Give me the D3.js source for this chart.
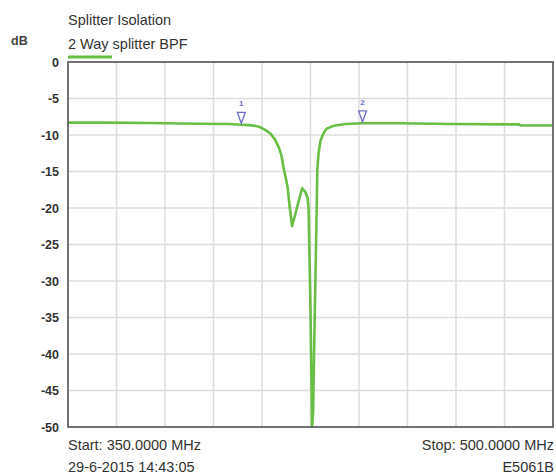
<!DOCTYPE html>
<html>
<head>
<meta charset="utf-8">
<script src="https://cdn.jsdelivr.net/npm/d3@7"></script>
<style>
  body { margin: 0; background: #fff; }
  text { font-family: "Liberation Sans", Arial, sans-serif; fill: #333; }
</style>
</head>
<body>
<main></main>
<script>
const width = 556;
const height = 475;
const margin = { top: 62, right: 3, bottom: 48, left: 68 };

// trace: frequency (MHz) and isolation (dB)
const freqs = [350, 362, 375, 390, 400, 403.6, 406, 408, 409.5, 411, 412.6, 414, 415.1, 416, 416.6, 417.3,
  417.9, 418.6, 419.3, 422.4, 423.4, 424.1, 424.4, 425.0, 425.5, 425.8, 426.3, 426.8, 427.1, 427.5,
  428.1, 428.8, 429.5, 430.2, 431.5, 432.7, 435.8, 441.1, 452.9, 468.4, 489.5, 490, 500];
const dbValues = [-8.3, -8.3, -8.35, -8.45, -8.5, -8.6, -8.65, -8.75, -8.95, -9.3, -9.8, -10.6, -11.6, -12.8, -14.3, -15.8,
  -17.1, -20, -22.5, -17.3, -17.8, -18.6, -20, -34, -50, -48, -35, -23, -14.8, -12.5,
  -10.8, -10.0, -9.4, -9.1, -8.85, -8.7, -8.5, -8.4, -8.4, -8.5, -8.55, -8.7, -8.7];

const markerFreqs = [403.6, 441.1];
const markerLabels = ["1", "2"];

const yTicks = [0, -5, -10, -15, -20, -25, -30, -35, -40, -45, -50];
const xTicks = [350, 365, 380, 395, 410, 425, 440, 455, 470, 485, 500];

const traceColor = "#6abd45";

const svg = d3.select("main").append("svg").attr("width", width).attr("height", height);

const xScale = d3.scaleLinear().domain([350, 500]).range([margin.left, width - margin.right]);
const yScale = d3.scaleLinear().domain([-50, 0]).range([height - margin.bottom, margin.top]);

// grid
svg.append("g")
  .selectAll("line")
  .data(xTicks)
  .enter()
  .append("line")
  .attr("x1", (d) => xScale(d))
  .attr("x2", (d) => xScale(d))
  .attr("y1", yScale(0))
  .attr("y2", yScale(-50))
  .attr("stroke", "#dcdcdc")
  .attr("stroke-width", 1.5);

svg.append("g")
  .selectAll("line")
  .data(yTicks)
  .enter()
  .append("line")
  .attr("x1", xScale(350))
  .attr("x2", xScale(500))
  .attr("y1", (d) => yScale(d))
  .attr("y2", (d) => yScale(d))
  .attr("stroke", "#dcdcdc")
  .attr("stroke-width", 1.5);

// y axis labels (plain hyphen, like the analyser screen)
const yAxis = d3.axisLeft(yScale).tickValues(yTicks).tickSize(0).tickPadding(9).tickFormat((d) => String(d));
svg.append("g")
  .attr("transform", `translate(${margin.left}, 0)`)
  .call(yAxis)
  .call((g) => g.select(".domain").remove())
  .selectAll("text")
  .style("font-size", "12.5px")
  .style("font-weight", "bold")
  .attr("fill", "#444");

// trace
svg.append("clipPath").attr("id", "plot-clip")
  .append("rect")
  .attr("x", xScale(350))
  .attr("y", yScale(0))
  .attr("width", xScale(500) - xScale(350))
  .attr("height", yScale(-50) - yScale(0));

const line = d3.line()
  .x((d, i) => xScale(freqs[i]))
  .y((d) => yScale(d));

svg.append("path")
  .datum(dbValues)
  .attr("clip-path", "url(#plot-clip)")
  .attr("d", line)
  .attr("fill", "none")
  .attr("stroke", traceColor)
  .attr("stroke-width", 2.6)
  .attr("stroke-linejoin", "round");

// frame
svg.append("rect")
  .attr("x", xScale(350))
  .attr("y", yScale(0))
  .attr("width", xScale(500) - xScale(350))
  .attr("height", yScale(-50) - yScale(0))
  .attr("fill", "none")
  .attr("stroke", "#555")
  .attr("stroke-width", 1.6);

// markers
const dbAt = (f) => {
  const i = d3.bisectLeft(freqs, f);
  if (freqs[i] === f) return dbValues[i];
  const t = (f - freqs[i - 1]) / (freqs[i] - freqs[i - 1]);
  return dbValues[i - 1] + t * (dbValues[i] - dbValues[i - 1]);
};

const markers = svg.append("g")
  .selectAll("g")
  .data(markerFreqs)
  .enter()
  .append("g")
  .attr("transform", (d) => `translate(${xScale(d)}, ${yScale(dbAt(d)) - 1.5})`);

markers.append("path")
  .attr("d", "M-4,-11 L4,-11 L0,0 Z")
  .attr("fill", "#fff")
  .attr("stroke", "#6d6fc4")
  .attr("stroke-width", 1.3);

markers.append("text")
  .attr("y", -17)
  .attr("text-anchor", "middle")
  .text((d, i) => markerLabels[i])
  .style("font-size", "8px")
  .style("font-weight", "bold")
  .style("fill", "#6d6fc4");

// titles
svg.append("text").attr("x", 68).attr("y", 25).text("Splitter Isolation")
  .style("font-size", "14.5px");
svg.append("text").attr("x", 11).attr("y", 45).text("dB")
  .style("font-size", "12.5px").style("font-weight", "bold").style("fill", "#444");
svg.append("text").attr("x", 68).attr("y", 49).text("2 Way splitter BPF")
  .style("font-size", "14.5px");
svg.append("line")
  .attr("x1", 68).attr("x2", 112).attr("y1", 57).attr("y2", 57)
  .attr("stroke", traceColor).attr("stroke-width", 3);

// footer
svg.append("text").attr("x", 68).attr("y", 450).text("Start: 350.0000 MHz").style("font-size", "14.5px");
svg.append("text").attr("x", 68).attr("y", 472).text("29-6-2015 14:43:05").style("font-size", "14.5px");
svg.append("text").attr("x", 554).attr("y", 450).attr("text-anchor", "end").text("Stop: 500.0000 MHz").style("font-size", "14.5px");
svg.append("text").attr("x", 554).attr("y", 472).attr("text-anchor", "end").text("E5061B").style("font-size", "14.5px");
</script>
</body>
</html>
